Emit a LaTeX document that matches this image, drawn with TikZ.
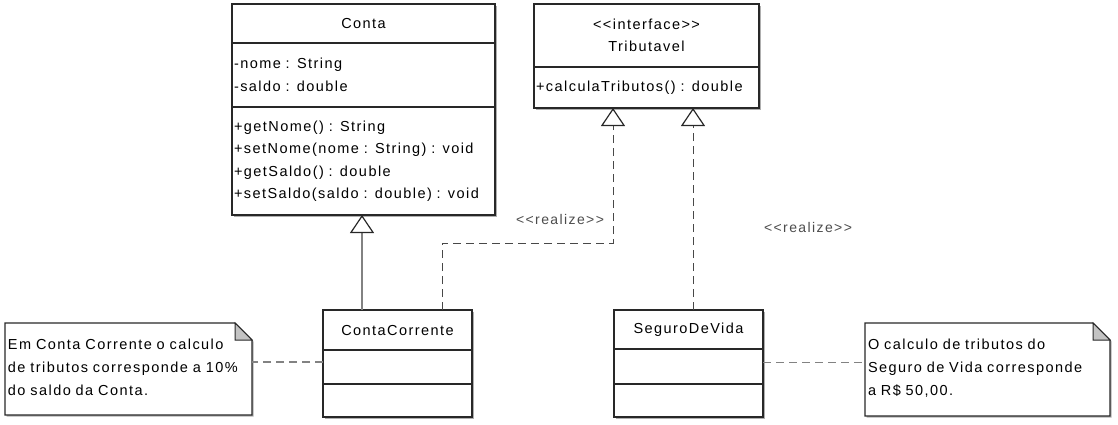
\documentclass[tikz,border=0pt]{standalone}
\usepackage{fontspec}
\newfontfamily\umlfont[LetterSpace=10]{Liberation Sans}
\usepackage{tikz}
\usetikzlibrary{arrows.meta, positioning, shadows}
\definecolor{umlline}{RGB}{40,40,40}
\definecolor{umlshadow}{RGB}{175,175,175}
\definecolor{notefold}{RGB}{195,195,195}
\definecolor{linkgray}{RGB}{130,130,130}

\tikzset{
  umlpart/.style={draw=umlline, line width=1.4pt, fill=white, outer sep=0pt,
                  inner xsep=2pt, inner ysep=0pt,
                  font=\umlfont\fontsize{14.5}{22.5}\selectfont,
                  drop shadow={shadow xshift=1.5pt, shadow yshift=-1.5pt,
                               fill=umlshadow, opacity=1}},
  umlhead/.style={umlpart, align=center},
  umlbody/.style={umlpart, align=left},
  notetext/.style={inner xsep=3pt, inner ysep=0pt, outer sep=0pt, align=left,
                   font=\umlfont\fontsize{14.5}{23}\selectfont},
  notebox/.style={draw=umlline, line width=1.4pt, fill=white,
                  drop shadow={shadow xshift=1.5pt, shadow yshift=-1.5pt,
                               fill=umlshadow, opacity=1}},
  realize/.style={draw=umlline!85, line width=1pt, dash pattern=on 8pt off 5pt,
                  -{Triangle[open, width=24pt, length=18pt, line width=1.2pt, color=umlline]}},
  extends/.style={draw=linkgray, line width=1.4pt,
                  -{Triangle[open, width=24pt, length=18pt, line width=1.2pt, color=umlline]}},
  anchorlink/.style={draw=linkgray, line width=1.2pt, dash pattern=on 8pt off 5pt},
  stereo/.style={font=\umlfont\fontsize{14}{16}\selectfont, text=black!70}
}

\begin{document}
\begin{tikzpicture}[x=1pt, y=-1pt]
        \useasboundingbox (0,0) rectangle (1118,424);

        % Conta
        \node[umlhead, text width=259pt, minimum height=39pt, anchor=north west]
          (conta) at (232,4) {Conta};
        \node[umlbody, text width=259pt, minimum height=64pt, below=0pt of conta]
          (contaattr) {-nome : String\\-saldo : double};
        \node[umlbody, text width=259pt, minimum height=108pt, below=0pt of contaattr]
          (contaops) {+getNome() : String\\+setNome(nome : String) : void\\
                      +getSaldo() : double\\+setSaldo(saldo : double) : void};

        % Tributavel
        \node[umlhead, text width=221pt, minimum height=63pt, anchor=north west]
          (trib) at (534,4) {<{}<interface>{}>\\Tributavel};
        \node[umlbody, text width=221pt, minimum height=41pt, below=0pt of trib]
          (tribops) {+calculaTributos() : double};

        % ContaCorrente
        \node[umlhead, text width=145pt, minimum height=40pt, anchor=north west]
          (cc) at (323,310) {ContaCorrente};
        \node[umlbody, text width=145pt, minimum height=34pt, below=0pt of cc] (ccattr) {};
        \node[umlbody, text width=145pt, minimum height=33pt, below=0pt of ccattr] (ccops) {};

        % SeguroDeVida
        \node[umlhead, text width=145pt, minimum height=39pt, anchor=north west]
          (sdv) at (614,310) {SeguroDeVida};
        \node[umlbody, text width=145pt, minimum height=35pt, below=0pt of sdv] (sdvattr) {};
        \node[umlbody, text width=145pt, minimum height=33pt, below=0pt of sdvattr] (sdvops) {};

        % notes
        \node[notetext, text width=241pt, minimum height=92pt, anchor=north west]
          (ccnote) at (5,323) {};
        \draw[notebox] (ccnote.north west) -- ([xshift=-17pt]ccnote.north east)
          -- ([yshift=-17pt]ccnote.north east) -- (ccnote.south east)
          -- (ccnote.south west) -- cycle;
        \filldraw[draw=umlline, fill=notefold, line width=1pt]
          ([xshift=-17pt]ccnote.north east) -- ([xshift=-17pt, yshift=-17pt]ccnote.north east)
          -- ([yshift=-17pt]ccnote.north east) -- cycle;
        \node[notetext, text width=241pt, anchor=north west] (cctext) at (5,339)
          {Em Conta Corrente o calculo\\de tributos corresponde a 10\%\\do saldo da Conta.};

        \node[notetext, text width=239pt, minimum height=93pt, anchor=north west]
          (sdvnote) at (865,323) {};
        \draw[notebox] (sdvnote.north west) -- ([xshift=-17pt]sdvnote.north east)
          -- ([yshift=-17pt]sdvnote.north east) -- (sdvnote.south east)
          -- (sdvnote.south west) -- cycle;
        \filldraw[draw=umlline, fill=notefold, line width=1pt]
          ([xshift=-17pt]sdvnote.north east) -- ([xshift=-17pt, yshift=-17pt]sdvnote.north east)
          -- ([yshift=-17pt]sdvnote.north east) -- cycle;
        \node[notetext, text width=239pt, anchor=north west] (sdvtext) at (865,339)
          {O calculo de tributos do\\Seguro de Vida corresponde\\a R\$ 50,00.};

        % links
        \draw[extends] ([xshift=-35.5pt]cc.north) -- ([xshift=-35.5pt]cc.north |- contaops.south);
        \draw[realize] ([xshift=44.5pt]cc.north) -- ++(0,-67) -| ([xshift=-33.5pt]tribops.south);
        \draw[realize] ([xshift=4.5pt]sdv.north) -- ([xshift=4.5pt]sdv.north |- tribops.south);
        \draw[anchorlink] ([yshift=5pt]ccattr.west) -- ([yshift=5pt]ccattr.west -| ccnote.east);
        \draw[anchorlink] ([yshift=4pt]sdvattr.east) -- ([yshift=4pt]sdvattr.east -| sdvnote.west);

        \node[stereo] (realize1) at (560,219) {<{}<realize>{}>};
        \node[stereo] (realize2) at (808,227) {<{}<realize>{}>};
      \end{tikzpicture}
\end{document}
